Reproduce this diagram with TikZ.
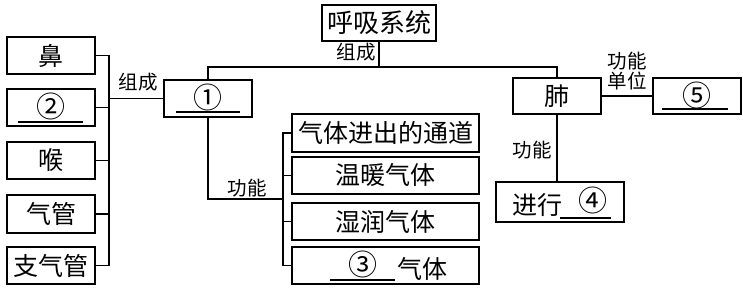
\documentclass[tikz,border=0pt]{standalone}
\usepackage{fontspec}
\setmainfont{Noto Sans CJK SC}
\newcommand\cdg[1]{\raisebox{3pt}{\fontsize{29}{29}\selectfont #1}}
\begin{document}
\begin{tikzpicture}[x=1pt,y=-1pt,line width=1.3pt,
  box/.style={draw,inner sep=0pt,font=\fontsize{25}{29}\selectfont},
  lab/.style={inner sep=0pt,font=\fontsize{19.5}{22}\selectfont,align=center},
  uline/.style={line width=1.1pt}]
\useasboundingbox (0,0) rectangle (743,289);
% boxes
\node[box,minimum width=114pt,minimum height=36pt,font=\fontsize{26}{30}\selectfont] (sys) at (379,23) {呼吸系统};
\node[box,minimum width=88pt,minimum height=37pt] (n1) at (208,98.5) {\raisebox{2pt}{\cdg{①}}};
\node[box,minimum width=88pt,minimum height=37pt] (nose) at (51,55.5) {鼻};
\node[box,minimum width=88pt,minimum height=37pt] (n2) at (51,107.5) {\raisebox{1pt}{\cdg{②}}};
\node[box,minimum width=88pt,minimum height=37pt] (throat) at (51,160.5) {喉};
\node[box,minimum width=88pt,minimum height=38pt] (trachea) at (51,214) {气管};
\node[box,minimum width=88pt,minimum height=37pt] (bronchi) at (51,265.5) {支气管};
\node[box,minimum width=187pt,minimum height=38pt] (f1) at (385.5,133) {气体进出的通道};
\node[box,minimum width=187pt,minimum height=37pt] (f2) at (385.5,175.5) {温暖气体};
\node[box,minimum width=187pt,minimum height=37pt] (f3) at (385.5,221.5) {湿润气体};
\node[box,minimum width=187pt,minimum height=37pt] (f4) at (385.5,265.5) {\hspace{24.5pt}\cdg{③}\hspace{19.5pt}气体};
\node[box,minimum width=88pt,minimum height=36pt] (lung) at (557,96) {肺};
\node[box,minimum width=128pt,minimum height=40pt] (n4) at (560,202) {进行\hspace{16.5pt}\cdg{④}\hspace{10.5pt}};
\node[box,minimum width=88pt,minimum height=36pt] (n5) at (697,96) {\raisebox{1pt}{\cdg{⑤}}};
% underlines
\draw[uline] (176,112) -- (240,112);
\draw[uline] (18,122) -- (83,122);
\draw[uline] (330,280) -- (395,280);
\draw[uline] (560,218) -- (611,218);
\draw[uline] (662,109) -- (728,109);
% top connector
\coordinate (top) at (379,67);
\draw (sys.south) -- (sys.south |- top);
\draw (n1.north) -- (n1.north |- top) -- (lung.north |- top) -- (lung.north);
% left bracket
\coordinate (lb) at (109,0);
\draw (nose.east) -- (nose.east -| lb) -- (bronchi.east -| lb) -- (bronchi.east);
\draw (n2.east) -- (n2.east -| lb);
\draw (throat.east) -- (throat.east -| lb);
\draw (trachea.east) -- (trachea.east -| lb);
\draw (n1.west -| lb) -- (n1.west);
% function bracket
\coordinate (fb) at (283,199);
\draw (n1.south) -- (n1.south |- fb) -- (fb);
\draw (f1.west) -- (f1.west -| fb) -- (f4.west -| fb) -- (f4.west);
\draw (f2.west) -- (f2.west -| fb);
\draw (f3.west) -- (f3.west -| fb);
% lung connectors
\draw (lung.south) -- (lung.south |- n4.north);
\draw (lung.east) -- (n5.west);
% labels
\node[lab] (l1) at (356,52) {组成};
\node[lab] (l2) at (138,82) {组成};
\node[lab] (l3) at (247,188) {功能};
\node[lab] (l4) at (532,150) {功能};
\node[lab] (l5) at (627,71) {功能\\[-2pt]单位};
\end{tikzpicture}
\end{document}
